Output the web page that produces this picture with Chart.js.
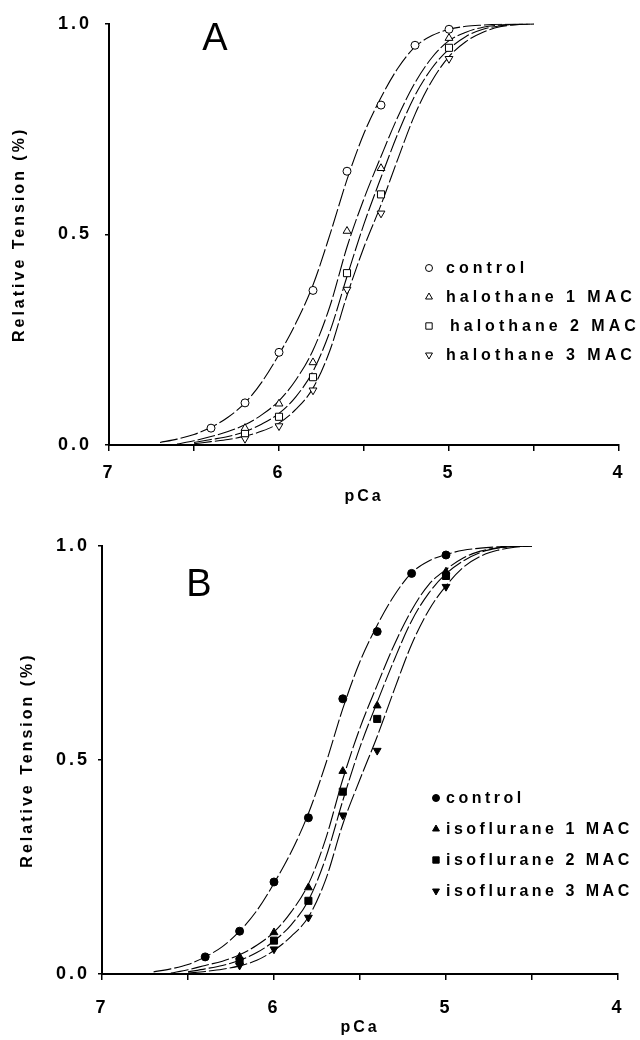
<!DOCTYPE html>
<html>
<head>
<meta charset="utf-8">
<script src="https://cdn.jsdelivr.net/npm/chart.js@4.4.1/dist/chart.umd.min.js"></script>
<style>
  body { margin: 0; background: #fff; }
  #wrap { position: relative; width: 640px; height: 1040px; }
  .panel { position: absolute; left: 0; width: 640px; }
</style>
</head>
<body>
<div id="wrap">
  <div class="panel" style="top:0;height:510px"><canvas id="chartA"></canvas></div>
  <div class="panel" style="top:520px;height:520px"><canvas id="chartB"></canvas></div>
</div>
<script>
// pCa steps where tension was measured
const pCaControl = [6.4, 6.2, 6.0, 5.8, 5.6, 5.4, 5.2, 5.0];
const pCaAnesthetic = [6.2, 6.0, 5.8, 5.6, 5.4, 5.0];

// panel A: halothane
const haloControl = [0.04, 0.10, 0.22, 0.367, 0.65, 0.807, 0.949, 0.987];
const halo1 = [0.04, 0.098, 0.196, 0.508, 0.657, 0.966];
const halo2 = [0.028, 0.067, 0.161, 0.408, 0.595, 0.943];
const halo3 = [0.015, 0.045, 0.13, 0.369, 0.55, 0.917];

// panel B: isoflurane
const isoControl = [0.04, 0.10, 0.215, 0.365, 0.643, 0.80, 0.936, 0.979];
const iso1 = [0.04, 0.097, 0.202, 0.474, 0.627, 0.94];
const iso2 = [0.03, 0.078, 0.171, 0.426, 0.596, 0.93];
const iso3 = [0.02, 0.058, 0.132, 0.371, 0.522, 0.905];

// fitted curves
const fitPCa = [6.7, 6.6, 6.5, 6.4, 6.3, 6.2, 6.1, 6.0, 5.9, 5.8, 5.7, 5.6, 5.5, 5.4, 5.3, 5.2, 5.1, 5.0, 4.9, 4.8, 4.7, 4.6, 4.5];
const haloControlFit = [0.006, 0.014, 0.025, 0.042, 0.066, 0.10, 0.15, 0.215, 0.29, 0.38, 0.50, 0.63, 0.74, 0.825, 0.895, 0.945, 0.972, 0.987, 0.994, 0.997, 0.999, 1.0, 1.0];
const halo1Fit = [null, 0.002, 0.01, 0.02, 0.032, 0.048, 0.072, 0.105, 0.155, 0.225, 0.33, 0.47, 0.585, 0.685, 0.78, 0.86, 0.92, 0.96, 0.98, 0.992, 0.997, 0.999, 1.0];
const halo2Fit = [null, null, 0.006, 0.013, 0.02, 0.032, 0.05, 0.075, 0.115, 0.175, 0.27, 0.40, 0.525, 0.635, 0.74, 0.83, 0.895, 0.94, 0.97, 0.987, 0.995, 0.999, 1.0];
const halo3Fit = [null, null, 0.003, 0.008, 0.013, 0.021, 0.033, 0.052, 0.085, 0.135, 0.225, 0.355, 0.47, 0.57, 0.68, 0.785, 0.865, 0.922, 0.958, 0.98, 0.993, 0.998, 1.0];
const isoControlFit = [0.005, 0.012, 0.022, 0.04, 0.064, 0.10, 0.148, 0.212, 0.285, 0.375, 0.49, 0.62, 0.73, 0.815, 0.885, 0.937, 0.965, 0.98, 0.99, 0.995, 0.998, 1.0, 1.0];
const iso1Fit = [null, 0.002, 0.01, 0.02, 0.03, 0.045, 0.067, 0.098, 0.145, 0.21, 0.315, 0.455, 0.575, 0.675, 0.77, 0.85, 0.91, 0.945, 0.972, 0.988, 0.996, 0.999, 1.0];
const iso2Fit = [null, null, 0.005, 0.012, 0.02, 0.032, 0.05, 0.077, 0.115, 0.172, 0.27, 0.405, 0.53, 0.635, 0.735, 0.825, 0.89, 0.935, 0.965, 0.985, 0.995, 0.999, 1.0];
const iso3Fit = [null, null, 0.002, 0.006, 0.011, 0.019, 0.032, 0.055, 0.088, 0.133, 0.22, 0.35, 0.455, 0.555, 0.665, 0.77, 0.85, 0.907, 0.95, 0.976, 0.99, 0.997, 1.0];

const haloLabels = ['control', 'halothane 1 MAC', 'halothane 2 MAC', 'halothane 3 MAC'];
const isoLabels = ['control', 'isoflurane 1 MAC', 'isoflurane 2 MAC', 'isoflurane 3 MAC'];

const FONT = '"Liberation Sans", Arial, sans-serif';

function curve(ys) {
    return {
        data: fitPCa.map((x, i) => ({x: x, y: ys[i]})).filter(p => p.y !== null),
        showLine: true,
        pointRadius: 0,
        borderColor: '#000',
        borderWidth: 1.1,
        borderDash: [18, 3],
        cubicInterpolationMode: 'monotone',
        order: 1
    };
}

function marks(xs, ys, style, rot, fill, r) {
    return {
        data: xs.map((x, i) => ({x: x, y: ys[i]})),
        showLine: false,
        pointStyle: style,
        pointRotation: rot,
        pointRadius: r,
        pointBackgroundColor: fill,
        pointBorderColor: '#000',
        pointBorderWidth: 1,
        order: 0
    };
}

// panel letter + the in-plot key
const panelText = {
    id: 'panelText',
    beforeDraw(chart) {
        chart.ctx.letterSpacing = '3px';
    },
    afterDraw(chart, args, o) {
        const ctx = chart.ctx;
        ctx.save();
        ctx.fillStyle = '#000';
        ctx.letterSpacing = '0px';
        ctx.font = '38px ' + FONT;
        ctx.textAlign = 'center';
        ctx.textBaseline = 'middle';
        ctx.fillText(o.letter, o.letterX, o.letterY);

        ctx.letterSpacing = o.spacing;
        ctx.font = 'bold 16px ' + FONT;
        ctx.textAlign = 'left';
        for (let i = 0; i < o.labels.length; i++) {
            const y = o.top + i * o.step;
            ctx.fillStyle = o.fill;
            ctx.strokeStyle = '#000';
            ctx.lineWidth = 1;
            Chart.helpers.drawPoint(ctx, {
                pointStyle: o.styles[i], radius: o.radius[i],
                rotation: o.rotations[i], borderWidth: 1
            }, o.markerX, y);
            ctx.fillStyle = '#000';
            ctx.fillText(o.labels[i], o.textX + (i === 2 ? o.shift2 : 0), y + 1);
        }
        ctx.restore();
    }
};

function makeChart(id, p) {
    const fill = p.filled ? '#000' : '#fff';
    return new Chart(document.getElementById(id), {
        type: 'scatter',
        data: {
            datasets: [
                marks(pCaControl, p.control, 'circle', 0, fill, 4),
                marks(pCaAnesthetic, p.d1, 'triangle', 0, fill, 4.5),
                marks(pCaAnesthetic, p.d2, 'rect', 0, fill, 5),
                marks(pCaAnesthetic, p.d3, 'triangle', 180, fill, 4.5),
                curve(p.controlFit),
                curve(p.fit1),
                curve(p.fit2),
                curve(p.fit3)
            ]
        },
        options: {
            responsive: true,
            maintainAspectRatio: false,
            animation: false,
            events: [],
            layout: { padding: p.padding },
            scales: {
                x: {
                    type: 'linear', reverse: true, min: 4, max: 7,
                    afterFit(s) { s.height = p.xHeight; },
                    ticks: {
                        stepSize: 0.5, autoSkip: false, maxRotation: 0,
                        padding: p.xTickPad, color: '#000',
                        font: { family: FONT, size: 18, weight: 'bold' },
                        callback: v => Number.isInteger(v) ? String(v) : ''
                    },
                    grid: { drawOnChartArea: false, drawTicks: true, tickLength: 6, color: '#000', lineWidth: 1.5 },
                    border: { display: true, color: '#000', width: 2 },
                    title: {
                        display: true, text: 'pCa', color: '#000',
                        font: { family: FONT, size: 16, weight: 'bold' },
                        padding: { top: 0, bottom: p.xTitlePad }
                    }
                },
                y: {
                    min: 0, max: 1,
                    afterFit(s) { s.width = p.yWidth; },
                    ticks: {
                        stepSize: 0.5, padding: p.yTickPad, color: '#000',
                        font: { family: FONT, size: 18, weight: 'bold' },
                        callback: v => v.toFixed(1)
                    },
                    grid: { drawOnChartArea: false, drawTicks: true, tickLength: 4, color: '#000', lineWidth: 1.5 },
                    border: { display: true, color: '#000', width: 2 },
                    title: {
                        display: true, text: 'Relative Tension (%)', color: '#000',
                        font: { family: FONT, size: 16, weight: 'bold' },
                        padding: { top: p.yTitlePad, bottom: 0 }
                    }
                }
            },
            plugins: {
                legend: { display: false },
                tooltip: { enabled: false },
                panelText: {
                    letter: p.letter, letterX: p.letterX, letterY: p.letterY,
                    labels: p.labels, fill: fill, spacing: p.spacing,
                    styles: ['circle', 'triangle', 'rect', 'triangle'],
                    rotations: [0, 0, 0, 180],
                    radius: [3.5, 4, 4.5, 4],
                    markerX: p.markerX, textX: p.textX, shift2: p.shift2,
                    top: p.legendTop, step: p.legendStep
                }
            }
        },
        plugins: [panelText]
    });
}

makeChart('chartA', {
    filled: false, letter: 'A', letterX: 215, letterY: 40,
    control: haloControl, d1: halo1, d2: halo2, d3: halo3,
    controlFit: haloControlFit, fit1: halo1Fit, fit2: halo2Fit, fit3: halo3Fit,
    labels: haloLabels, spacing: '4px',
    padding: { left: 0, right: 21, top: 21, bottom: 0 },
    yWidth: 109, xHeight: 65, xTickPad: 11, xTitlePad: 4, yTickPad: 13, yTitlePad: 10,
    markerX: 429, textX: 446, shift2: 4, legendTop: 268, legendStep: 29
});

makeChart('chartB', {
    filled: true, letter: 'B', letterX: 199, letterY: 66,
    control: isoControl, d1: iso1, d2: iso2, d3: iso3,
    controlFit: isoControlFit, fit1: iso1Fit, fit2: iso2Fit, fit3: iso3Fit,
    labels: isoLabels, spacing: '3.5px',
    padding: { left: 0, right: 22, top: 26, bottom: 0 },
    yWidth: 102, xHeight: 66, xTickPad: 17, xTitlePad: 3, yTickPad: 8, yTitlePad: 18,
    markerX: 436, textX: 446, shift2: 0, legendTop: 278, legendStep: 31
});
</script>
</body>
</html>
